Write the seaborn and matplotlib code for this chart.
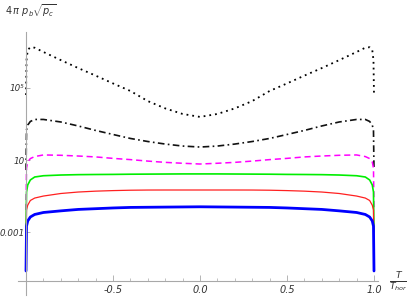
import numpy as np
import pandas as pd
import matplotlib
matplotlib.use("Agg")
import matplotlib.pyplot as plt
import seaborn as sns
from matplotlib.ticker import FixedLocator, NullLocator

sns.set_style("white")
plt.rcParams["font.family"] = ["DejaVu Sans"]
plt.rcParams["mathtext.fontset"] = "custom"
plt.rcParams["mathtext.it"] = "DejaVu Sans:italic"
plt.rcParams["mathtext.rm"] = "DejaVu Sans"

# ---- data ----
T = [-1.0, -0.997, -0.99, -0.975, -0.95, -0.9, -0.8, -0.7, -0.6, -0.5, -0.4, -0.3, -0.2, -0.1,
     0.0, 0.1, 0.2, 0.3, 0.4, 0.5, 0.6, 0.7, 0.8, 0.9, 0.95, 0.975, 0.99, 0.997, 1.0]

dotted_vals = [3.9e4, 3.3e6, 1.2e7, 1.7e7, 1.6e7, 9.3e6, 3.3e6, 1.2e6, 4.6e5, 1.7e5, 6.5e4, 1.8e4, 7.1e3, 3.5e3,
               2.4e3, 3.5e3, 7.1e3, 1.8e4, 6.5e4, 1.7e5, 4.6e5, 1.2e6, 3.3e6, 9.3e6, 1.6e7, 1.7e7, 1.2e7, 3.3e6, 3.9e4]
dashdot_vals = [2.8, 460, 850, 1350, 1740, 1740, 1260, 760, 430, 257, 155, 105, 76, 59,
                52, 59, 76, 105, 155, 257, 430, 760, 1260, 1740, 1740, 1350, 850, 460, 2.8]
magenta_vals = [0.0174, 3.6, 7.8, 12, 15.5, 19, 18.2, 16.6, 14.8, 12.3, 10.5, 8.7, 7.4, 6.6,
                6.0, 6.6, 7.4, 8.7, 10.5, 12.3, 14.8, 16.6, 18.2, 19, 15.5, 12, 7.8, 3.6, 0.0174]
green_vals = [1.05e-3, 0.17, 0.42, 0.79, 1.15, 1.35, 1.48, 1.55, 1.58, 1.6, 1.64, 1.66, 1.68, 1.7,
              1.7, 1.7, 1.68, 1.66, 1.64, 1.6, 1.58, 1.55, 1.48, 1.35, 1.15, 0.79, 0.42, 0.17, 1.05e-3]
red_vals = [7.2e-5, 0.0174, 0.032, 0.058, 0.079, 0.102, 0.141, 0.17, 0.19, 0.204, 0.214, 0.219, 0.22, 0.22,
            0.22, 0.22, 0.22, 0.219, 0.214, 0.204, 0.19, 0.17, 0.141, 0.102, 0.079, 0.058, 0.032, 0.0174, 7.2e-5]
blue_vals = [7.4e-6, 2.2e-3, 4.3e-3, 7.1e-3, 9.8e-3, 0.0126, 0.0155, 0.0186, 0.0204, 0.0224, 0.024, 0.0245, 0.025, 0.0255,
             0.026, 0.0255, 0.025, 0.0245, 0.024, 0.0224, 0.0204, 0.0186, 0.0155, 0.0126, 9.8e-3, 7.1e-3, 4.3e-3, 2.2e-3, 7.4e-6]

x_ticks = [-0.5, 0.0, 0.5, 1.0]
x_ticklabels = ["-0.5", "0.0", "0.5", "1.0"]
y_ticks = [1e-3, 10, 1e5]
y_ticklabels = ["0.001", "10", "10\u2075"]

series = [
    ("dotted", dotted_vals, "#000000", (0, (1.0, 2.2)), 1.3),
    ("dashdot", dashdot_vals, "#111111", (0, (4, 2, 1, 2)), 1.2),
    ("magenta", magenta_vals, "#ff00ff", (0, (4, 2.5)), 1.1),
    ("green", green_vals, "#00ee00", "-", 1.2),
    ("red", red_vals, "#ff2020", "-", 0.9),
    ("blue", blue_vals, "#0000ff", "-", 2.0),
]

W, H = 407, 297
fig = plt.figure(figsize=(W / 100, H / 100), dpi=100)
left_px, right_px, top_px, bot_px = 18, 378, 32, 295
ax = fig.add_axes([left_px / W, 1 - bot_px / H, (right_px - left_px) / W, (bot_px - top_px) / H])

for name, vals, col, ls, lw in series:
    df = pd.DataFrame({"T": T, "v": vals})
    sns.lineplot(data=df, x="T", y="v", ax=ax, color=col, linestyle=ls, linewidth=lw,
                 sort=False, estimator=None, legend=False)

ax.set_yscale("log")
# pixel mapping: T=-1 at x=26, 174 px per unit; 18.1 px per decade, 10 at y=160
ax.set_xlim(-1 - 8 / 174, -1 + (right_px - 26) / 174)
ax.set_ylim(10 ** (1 - (bot_px - 160) / 18.1), 10 ** (1 + (160 - top_px) / 18.1))

ax.spines["top"].set_visible(False)
ax.spines["right"].set_visible(False)
ax.spines["left"].set_position(("data", -1.0))
ax.spines["bottom"].set_position(("data", 10 ** (1 - (281 - 160) / 18.1)))
for s in ("left", "bottom"):
    ax.spines[s].set_color("#a8a8a8")
    ax.spines[s].set_linewidth(0.8)

ax.xaxis.set_major_locator(FixedLocator(x_ticks))
ax.set_xticklabels(x_ticklabels)
ax.xaxis.set_minor_locator(FixedLocator([-0.9, -0.8, -0.7, -0.6, -0.4, -0.3, -0.2, -0.1,
                                         0.1, 0.2, 0.3, 0.4, 0.6, 0.7, 0.8, 0.9]))
ax.yaxis.set_major_locator(FixedLocator(y_ticks))
ax.set_yticklabels(y_ticklabels)
ax.yaxis.set_minor_locator(NullLocator())

ax.tick_params(axis="x", which="major", direction="in", length=4, width=0.6, color="#a8a8a8",
               labelsize=7, labelcolor="#333333", pad=3, bottom=True)
ax.tick_params(axis="x", which="minor", direction="in", length=2, width=0.5, color="#a8a8a8", bottom=True)
ax.tick_params(axis="y", which="major", direction="in", length=3, width=0.6, color="#a8a8a8",
               labelsize=6.3, labelcolor="#333333", pad=1, left=True)
for lab in ax.get_xticklabels() + ax.get_yticklabels():
    lab.set_fontstyle("italic")

ax.set_xlabel("")
ax.set_ylabel("")
ax.patch.set_alpha(0)
ax.grid(False)

fig.text(5 / W, 1 - 11 / H, r"$4\,\pi\ p_b\sqrt{p_c}$", fontsize=7, color="#333333",
         ha="left", va="center")
fig.text(398 / W, 1 - 282 / H, r"$\frac{T}{T_{hor}}$", fontsize=9.5, color="#333333",
         ha="center", va="center")

fig.savefig("out.png", dpi=100)
